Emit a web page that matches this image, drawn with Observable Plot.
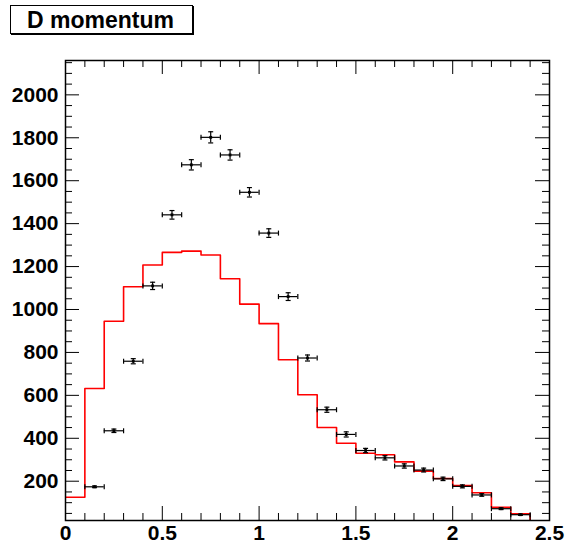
<!DOCTYPE html>
<html>
<head>
<meta charset="utf-8">
<script src="https://cdn.jsdelivr.net/npm/d3@7"></script>
<script src="https://cdn.jsdelivr.net/npm/@observablehq/plot@0.6"></script>
<style>
  html, body { margin: 0; padding: 0; background: #fff; }
  #wrap { position: relative; width: 566px; height: 552px; }
  #title {
    position: absolute; left: 10px; top: 5px; height: 27px;
    border: 1px solid #000; box-shadow: 1px 1px 0 #000; background: #fff;
    font-family: "Liberation Sans", Arial, sans-serif; font-weight: bold; font-size: 23px;
    line-height: 28px; padding-left: 16px; box-sizing: content-box; width: 165px; white-space: nowrap;
  }
</style>
</head>
<body>
<div id="wrap"><div id="title">D momentum</div></div>
<script>
// Histogram (red) bin lower edges and contents
const binLow = [0, 0.1, 0.2, 0.3, 0.4, 0.5, 0.6, 0.7, 0.8, 0.9, 1.0, 1.1, 1.2, 1.3, 1.4, 1.5, 1.6, 1.7, 1.8, 1.9, 2.0, 2.1, 2.2, 2.3, 2.4];
const mcValues = [125, 632, 945, 1106, 1207, 1266, 1272, 1254, 1143, 1025, 934, 766, 603, 450, 377, 330, 323, 290, 247, 213, 180, 146, 79, 48, 15];

// Data points (black) bin centres, contents, errors
const dataX = [0.15, 0.25, 0.35, 0.45, 0.55, 0.65, 0.75, 0.85, 0.95, 1.05, 1.15, 1.25, 1.35, 1.45, 1.55, 1.65, 1.75, 1.85, 1.95, 2.05, 2.15, 2.25, 2.35];
const dataY = [174, 435, 759, 1110, 1441, 1674, 1802, 1720, 1546, 1356, 1060, 774, 533, 418, 343, 309, 271, 252, 211, 176, 136, 72, 44];
const dataErr = [4, 8, 12, 17, 20, 24, 26, 24, 22, 20, 18, 14, 12, 12, 10, 10, 10, 9, 8, 7, 6, 4, 3];
const binHalf = 0.05;

// Axis ticks
const xMajor = [0, 0.5, 1, 1.5, 2, 2.5];
const xMinor = [0.1, 0.2, 0.3, 0.4, 0.6, 0.7, 0.8, 0.9, 1.1, 1.2, 1.3, 1.4, 1.6, 1.7, 1.8, 1.9, 2.1, 2.2, 2.3, 2.4];
const yMajor = [200, 400, 600, 800, 1000, 1200, 1400, 1600, 1800, 2000];
const yMinor = [50, 100, 150, 250, 300, 350, 450, 500, 550, 650, 700, 750, 850, 900, 950, 1050, 1100, 1150, 1250, 1300, 1350, 1450, 1500, 1550, 1650, 1700, 1750, 1850, 1900, 1950, 2050, 2100, 2150];

const W = 566, H = 552, mL = 65, mR = 17, mT = 60, mB = 32;
const fw = W - mL - mR, fh = H - mT - mB;
const majorLen = 14, minorLen = 7;

const hist = binLow.map((x, i) => ({x, y: mcValues[i]}));
hist.push({x: 2.5, y: mcValues[mcValues.length - 1]});
const pts = dataX.map((x, i) => ({x, y: dataY[i], e: dataErr[i]}));

const hCap = {draw(ctx) { ctx.moveTo(-2.5, 0); ctx.lineTo(2.5, 0); }};
const vCap = {draw(ctx) { ctx.moveTo(0, -2.5); ctx.lineTo(0, 2.5); }};

const chart = Plot.plot({
  width: W, height: H,
  marginLeft: mL, marginRight: mR, marginTop: mT, marginBottom: mB,
  style: {fontFamily: "'Liberation Sans', Arial, sans-serif", fontSize: "21px", fontWeight: "bold", color: "#000", background: "#fff"},
  x: {domain: [0, 2.5]},
  y: {domain: [17, 2160]},
  marks: [
    // red histogram
    Plot.line(hist, {x: "x", y: "y", curve: "step-after", stroke: "#ff0000", strokeWidth: 1.6, clip: true}),
    // error bars
    Plot.ruleY(pts, {y: "y", x1: d => d.x - binHalf, x2: d => d.x + binHalf, stroke: "#000", strokeWidth: 1.2}),
    Plot.ruleX(pts, {x: "x", y1: d => d.y - d.e, y2: d => d.y + d.e, stroke: "#000", strokeWidth: 1.2}),
    Plot.dot(pts, {x: "x", y: d => d.y - d.e, symbol: hCap, stroke: "#000", strokeWidth: 1.2, fill: "none"}),
    Plot.dot(pts, {x: "x", y: d => d.y + d.e, symbol: hCap, stroke: "#000", strokeWidth: 1.2, fill: "none"}),
    Plot.dot(pts, {x: d => d.x - binHalf, y: "y", symbol: vCap, stroke: "#000", strokeWidth: 1.2, fill: "none"}),
    Plot.dot(pts, {x: d => d.x + binHalf, y: "y", symbol: vCap, stroke: "#000", strokeWidth: 1.2, fill: "none"}),
    Plot.dot(pts, {x: "x", y: "y", symbol: "square", r: 1.6, fill: "#000"}),
    // inward ticks
    Plot.ruleX(xMajor, {x: d => d, insetTop: fh - majorLen, stroke: "#000"}),
    Plot.ruleX(xMinor, {x: d => d, insetTop: fh - minorLen, stroke: "#000"}),
    Plot.ruleX(xMajor, {x: d => d, insetBottom: fh - majorLen, stroke: "#000"}),
    Plot.ruleX(xMinor, {x: d => d, insetBottom: fh - minorLen, stroke: "#000"}),
    Plot.ruleY(yMajor, {y: d => d, insetRight: fw - majorLen, stroke: "#000"}),
    Plot.ruleY(yMinor, {y: d => d, insetRight: fw - minorLen, stroke: "#000"}),
    Plot.ruleY(yMajor, {y: d => d, insetLeft: fw - majorLen, stroke: "#000"}),
    Plot.ruleY(yMinor, {y: d => d, insetLeft: fw - minorLen, stroke: "#000"}),
    Plot.frame({stroke: "#000", strokeWidth: 1.5}),
    // labels
    Plot.axisX({ticks: xMajor, tickSize: 0, tickPadding: 5, tickFormat: d => String(d), label: null}),
    Plot.axisY({ticks: yMajor, tickSize: 0, tickPadding: 7, tickFormat: d => String(d), label: null})
  ]
});
document.getElementById("wrap").prepend(chart);
</script>
</body>
</html>
